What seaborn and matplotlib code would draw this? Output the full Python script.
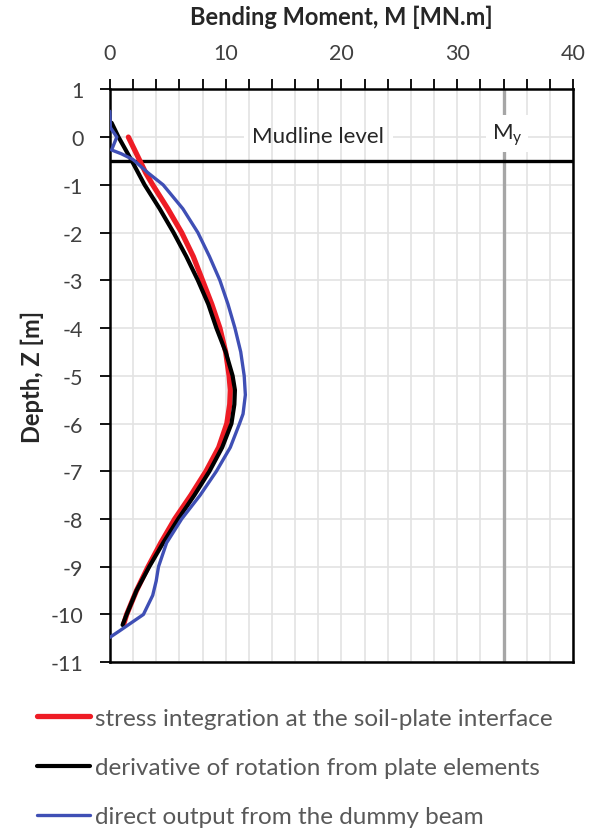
import pandas as pd
import seaborn as sns
import matplotlib.pyplot as plt
from matplotlib.lines import Line2D
from matplotlib.ticker import MultipleLocator

# ----- Data ----- #
red_z = [0.0, -0.25, -0.5, -0.75, -1.0, -1.5, -2.0, -2.5, -3.0, -3.5, -4.0, -4.5,
         -5.0, -5.3, -5.6, -6.0, -6.5, -7.0, -7.5, -8.0, -8.5, -9.0, -9.5, -10.0, -10.2]
red_m = [1.6, 2.1, 2.6, 3.1, 3.7, 5.0, 6.2, 7.2, 8.0, 8.8, 9.5, 10.0,
         10.3, 10.4, 10.35, 10.1, 9.4, 8.3, 7.0, 5.6, 4.4, 3.3, 2.3, 1.45, 1.2]

black_z = [0.3, 0.0, -0.5, -1.0, -1.5, -2.0, -2.5, -3.0, -3.5, -4.0, -4.5,
           -5.0, -5.3, -5.6, -6.0, -6.5, -7.0, -7.5, -8.0, -8.5, -9.0, -9.5, -10.0, -10.22]
black_m = [0.15, 0.75, 1.9, 3.0, 4.3, 5.5, 6.6, 7.6, 8.5, 9.2, 10.0,
           10.6, 10.8, 10.75, 10.5, 9.7, 8.6, 7.3, 5.9, 4.6, 3.4, 2.3, 1.45, 1.1]

blue_z = [0.54, 0.2, 0.0, -0.27, -0.35, -0.47, -0.75, -1.0, -1.5, -2.0, -2.5, -3.0,
          -3.5, -4.0, -4.5, -5.0, -5.4, -5.8, -6.0, -6.5, -7.0, -7.5, -8.0, -8.5,
          -9.0, -9.3, -9.6, -10.0, -10.2, -10.35, -10.48]
blue_m = [0.0, 0.05, 0.6, 0.15, 1.0, 2.0, 3.3, 4.6, 6.3, 7.6, 8.6, 9.5,
          10.2, 10.8, 11.3, 11.6, 11.7, 11.5, 11.2, 10.4, 9.2, 7.8, 6.2, 4.9,
          4.2, 4.0, 3.7, 2.9, 1.7, 0.8, 0.0]

labels = ['stress integration at the soil-plate interface',
          'derivative of rotation from plate elements',
          'direct output from the dummy beam']
colors = ['#ee1c25', '#000000', '#3f4fb5']
widths = [3.8, 3.0, 2.4]

mudline_z = -0.5
yield_moment = 34

# ----- Style ----- #
sns.set_style('white')
plt.rcParams['font.family'] = ['Lato', 'DejaVu Sans']
plt.rcParams['mathtext.fontset'] = 'custom'
plt.rcParams['mathtext.rm'] = 'Lato'
plt.rcParams['mathtext.it'] = 'Lato'
plt.rcParams['axes.unicode_minus'] = False

fig = plt.figure(figsize=(5.97, 8.29), dpi=100)
ax = fig.add_axes([0.184, 0.200, 0.776, 0.691])

series = [(red_m, red_z), (black_m, black_z), (blue_m, blue_z)]
for (m, z), lab, col, lw in zip(series, labels, colors, widths):
    df = pd.DataFrame({'M': m, 'Z': z})
    sns.lineplot(data=df, x='M', y='Z', sort=False, estimator=None,
                 color=col, linewidth=lw, ax=ax, zorder=4,
                 solid_capstyle='round', solid_joinstyle='round')

# ----- Reference lines ----- #
ax.axhline(mudline_z, color='black', linewidth=2.4, zorder=3)
ax.axvline(yield_moment, color='#a6a6a6', linewidth=2.4, zorder=2)
# white box hides only the horizontal gridline behind the label
ax.text(18.0, 0.02, 'Mudline level', ha='center', va='center', fontsize=16,
        color='none', zorder=0.7,
        bbox=dict(facecolor='white', edgecolor='none', pad=6))
ax.text(18.0, 0.02, 'Mudline level', ha='center', va='center', fontsize=16,
        color='#262626', zorder=5)
ax.text(34.3, 0.07, 'M$_\\mathrm{y}$', ha='center', va='center', fontsize=16,
        color='#262626', zorder=3,
        bbox=dict(facecolor='white', edgecolor='none', pad=4))

# ----- Axes ----- #
ax.set_xlim(0, 40)
ax.set_ylim(-11, 1)
ax.xaxis.set_major_locator(MultipleLocator(10))
ax.xaxis.set_minor_locator(MultipleLocator(2))
ax.yaxis.set_major_locator(MultipleLocator(1))
ax.xaxis.tick_top()
ax.xaxis.set_label_position('top')
ax.tick_params(axis='x', which='both', direction='out', length=7, width=1.3,
               color='black', labelsize=15.5, labelcolor='#404040', pad=12)
ax.tick_params(axis='y', which='major', direction='out', length=7, width=1.3,
               color='black', labelsize=15.5, labelcolor='#404040', left=True,
               pad=12)
ax.grid(which='both', axis='x', color='#e3e3e3', linewidth=1.2)
ax.grid(which='major', axis='y', color='#e3e3e3', linewidth=1.2)
ax.set_axisbelow(True)
ax.yaxis.set_zorder(0.4)
ax.xaxis.set_zorder(1.0)
for sp in ax.spines.values():
    sp.set_color('black')
    sp.set_linewidth(1.8)

ax.set_xlabel('Bending Moment, M [MN.m]', fontsize=17, fontweight='bold',
              labelpad=14)
ax.set_ylabel('Depth, Z [m]', fontsize=17, fontweight='bold', labelpad=5)

# ----- Legend ----- #
handles = [Line2D([], [], color=c, linewidth=lw) for c, lw in zip(colors, widths)]
leg = fig.legend(handles, labels, loc='upper left', bbox_to_anchor=(0.062, 0.145),
                 frameon=False, fontsize=17.5, handlelength=2.2, borderpad=0,
                 borderaxespad=0, handletextpad=0.2, labelspacing=1.16)
for t in leg.get_texts():
    t.set_color('#595959')

fig.savefig('out.png', dpi=100)
